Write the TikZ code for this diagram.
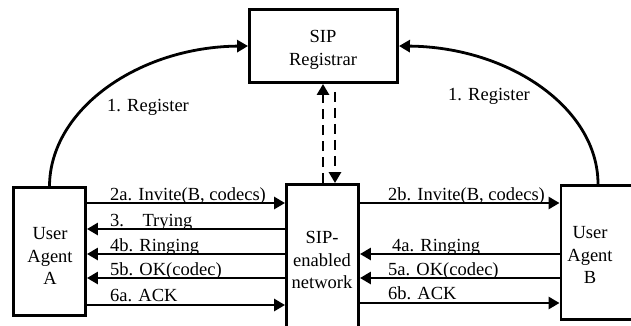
\documentclass[tikz,border=0pt]{standalone}
\usepackage{fontspec}
\setmainfont{Liberation Serif}
\usetikzlibrary{arrows.meta}
\begin{document}
\begin{tikzpicture}[x=1pt,y=-1pt,
  box/.style={draw, line width=2.9pt, inner sep=0pt},
  txt/.style={font=\fontsize{18.5}{22.5}\selectfont, align=center, inner sep=0pt},
  lbl/.style={font=\fontsize{18.5}{22.5}\selectfont, anchor=base west, inner sep=0pt},
  arr/.style={line width=2.8pt, -{Triangle[length=11pt,width=12pt]}},
  darr/.style={arr, dash pattern=on 10pt off 6pt}]
\useasboundingbox (0,0) rectangle (631,325);
\clip (0,0) rectangle (631,325);
% boxes
\node[box, minimum width=148pt, minimum height=73pt] (reg) at (323.5,46) {};
\node[box, minimum width=72pt, minimum height=128pt] (uaa) at (49.5,251.5) {};
\node[box, minimum width=72pt, minimum height=160pt] (net) at (322.5,264.5) {};
\node[box, minimum width=88pt, minimum height=134pt] (uab) at (605,252.5) {};
% box texts
\node[txt] (regt) at (323,50) {SIP\\Registrar};
\node[txt] (uaat) at (50,256) {User\\Agent\\A};
\node[txt] (nett) at (322,260) {SIP-\\enabled\\network};
\node[txt] (uabt) at (590,255) {User\\Agent\\B};
% register curves
\draw[arr] (uaa.north) .. controls (50,109) and (139,47) .. (reg.west);
\draw[arr] (uab.north -| 598,0) .. controls (598,108) and (509,47) .. (reg.east);
\node[txt, anchor=west] (r1) at (107,107) {1. Register};
\node[txt, anchor=west] (r2) at (448,96) {1. Register};
% dashed
\draw[darr] (net.north -| 323,0) -- (reg.south -| 323,0);
\draw[darr, shorten <=8pt] (reg.south -| 335,0) -- (net.north -| 335,0);
% left messages
\draw[arr] (uaa.east |- 0,203) -- (net.west |- 0,203);
\draw[arr] (net.west |- 0,229) -- (uaa.east |- 0,229);
\draw[arr] (net.west |- 0,254) -- (uaa.east |- 0,254);
\draw[arr] (net.west |- 0,278) -- (uaa.east |- 0,278);
\draw[arr] (uaa.east |- 0,305) -- (net.west |- 0,305);
\node[lbl] (m2a) at (110,200) {2a. Invite(B, codecs)};
\node[lbl] (m3) at (110,226) {3.\quad Trying};
\node[lbl] (m4b) at (110,251) {4b. Ringing};
\node[lbl] (m5b) at (110,275) {5b. OK(codec)};
\node[lbl] (m6a) at (110,301) {6a. ACK};
% right messages
\draw[arr] (net.east |- 0,203) -- (uab.west |- 0,203);
\draw[arr] (uab.west |- 0,254) -- (net.east |- 0,254);
\draw[arr] (uab.west |- 0,278) -- (net.east |- 0,278);
\draw[arr] (net.east |- 0,303) -- (uab.west |- 0,303);
\node[lbl] (m2b) at (388,200) {2b. Invite(B, codecs)};
\node[lbl] (m4a) at (392,251) {4a. Ringing};
\node[lbl] (m5a) at (388,275) {5a. OK(codec)};
\node[lbl] (m6b) at (388,299) {6b. ACK};
\end{tikzpicture}
\end{document}
